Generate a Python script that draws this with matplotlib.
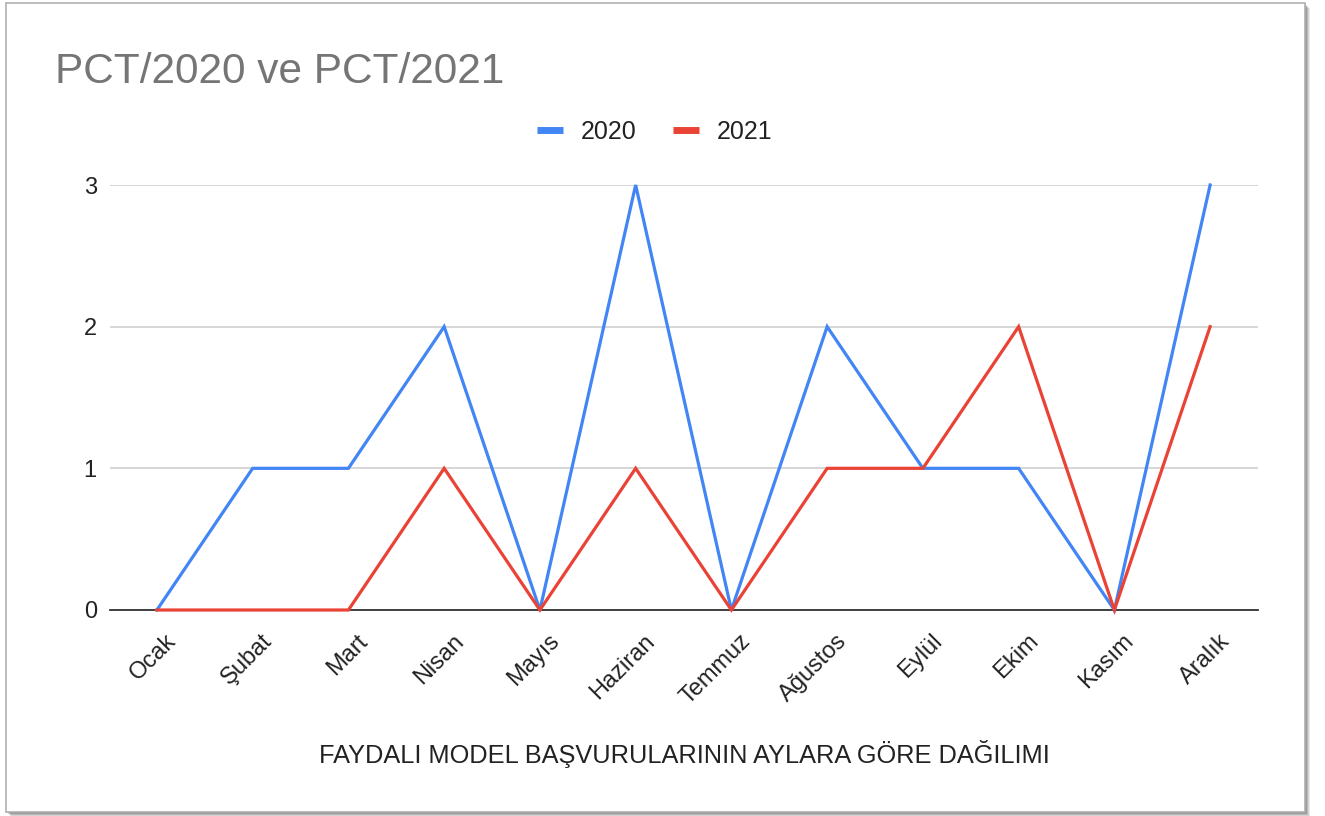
import matplotlib
matplotlib.use("Agg")
import matplotlib.pyplot as plt
from matplotlib.patches import Rectangle
from matplotlib.lines import Line2D
from matplotlib.transforms import ScaledTranslation

months = ["Ocak", "Şubat", "Mart", "Nisan", "Mayıs", "Haziran", "Temmuz",
          "Ağustos", "Eylül", "Ekim", "Kasım", "Aralık"]
values_2020 = [0, 1, 1, 2, 0, 3, 0, 2, 1, 1, 0, 3]
values_2021 = [0, 0, 0, 1, 0, 1, 0, 1, 1, 2, 0, 2]
series_names = ["2020", "2021"]
yticks = [0, 1, 2, 3]
title = "PCT/2020 ve PCT/2021"
xlabel = "FAYDALI MODEL BAŞVURULARININ AYLARA GÖRE DAĞILIMI"

blue = "#4285F4"
red = "#EA4335"

plt.rcParams["font.family"] = ["Liberation Sans", "DejaVu Sans"]

W, H = 1325, 816
fig = plt.figure(figsize=(W / 100, H / 100), dpi=100)
fig.patch.set_facecolor("white")

# frame with soft shadow
def px_rect(x0, y0, x1, y1, **kw):
    return Rectangle((x0 / W, 1 - y1 / H), (x1 - x0) / W, (y1 - y0) / H,
                     transform=fig.transFigure, **kw)

for i, a in enumerate([0.08, 0.10, 0.12, 0.15, 0.2]):
    off = 5 - i
    fig.patches.append(px_rect(6 + off, 3 + off, 1305 + off, 812 + off,
                               facecolor="#000000", edgecolor="none", alpha=a, zorder=0))
fig.patches.append(px_rect(6, 3, 1305, 812, facecolor="white",
                           edgecolor="#b0b0b0", linewidth=1.2, zorder=1))

ax = fig.add_axes([110 / W, 1 - 610 / H, (1258 - 110) / W, (610 - 185) / H])
ax.set_facecolor("none")
ax.set_zorder(2)

x = list(range(len(months)))
ax.plot(x, values_2020, color=blue, linewidth=2.3, clip_on=False, zorder=3,
        solid_joinstyle="miter")
ax.plot(x, values_2021, color=red, linewidth=2.3, clip_on=False, zorder=4,
        solid_joinstyle="miter")

ax.set_xlim(-0.49, 11.5)
ax.set_ylim(0, 3)
ax.set_yticks(yticks)
ax.set_yticklabels([str(v) for v in yticks], fontsize=17, color="#222222")
ax.grid(axis="y", color="#cccccc", linewidth=1.1)
ax.set_axisbelow(True)
for s in ["top", "right", "left"]:
    ax.spines[s].set_visible(False)
ax.spines["bottom"].set_color("#333333")
ax.spines["bottom"].set_linewidth(1.3)
ax.spines["bottom"].set_zorder(2.5)
ax.tick_params(axis="both", length=0)
ax.tick_params(axis="y", pad=9.5)

ax.set_xticks(x)
ax.set_xticklabels(months, fontsize=17, color="#222222", rotation=45,
                   ha="right", va="center", rotation_mode="anchor")
ax.tick_params(axis="x", pad=20)
for lab in ax.get_xticklabels():
    lab.set_transform(lab.get_transform() + ScaledTranslation(0.16, 0, fig.dpi_scale_trans))

ax.set_xlabel(xlabel, fontsize=18.3, color="#222222")
ax.xaxis.set_label_coords(0.5, -0.305)

fig.text(55 / W, 1 - 72 / H, title, fontsize=30.5, color="#757575",
         ha="left", va="center", zorder=5)

handles = [Line2D([], [], color=blue, linewidth=5, solid_capstyle="butt"),
           Line2D([], [], color=red, linewidth=5, solid_capstyle="butt")]
fig.legend(handles, series_names, loc="center", bbox_to_anchor=(654.5 / W, 1 - 132 / H),
           ncol=2, frameon=False, fontsize=18, handlelength=1.04, handletextpad=0.72,
           columnspacing=1.44, labelcolor="#222222", borderpad=0, borderaxespad=0)

fig.savefig("out.png", dpi=100, facecolor="white")
